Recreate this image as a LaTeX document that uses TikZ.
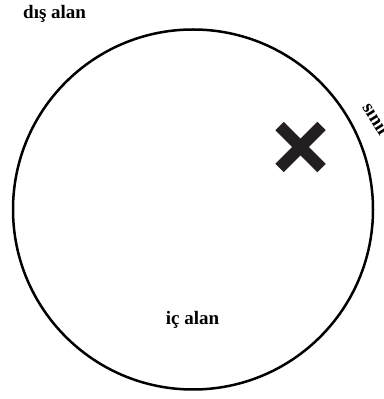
\documentclass[tikz,border=0pt]{standalone}
\usepackage{fontspec}
\setmainfont{Liberation Serif}
\definecolor{markcol}{HTML}{231F20}
\begin{document}
\begin{tikzpicture}[x=1pt,y=1pt,
  lbl/.style={font=\bfseries\fontsize{19}{22}\selectfont, inner sep=0pt},
  xarm/.style={draw=markcol, line width=12pt, line cap=butt}]
\useasboundingbox (0,0) rectangle (383,399);
\node[draw, circle, line width=2.5pt, minimum size=360pt, inner sep=0pt] (c) at (193,189.5) {};
\node[lbl, anchor=base west] (dis) at (23,380) {dış alan};
\node[lbl, anchor=base] (ic) at (192.5,74) {iç alan};
\node[lbl, anchor=base west, rotate=-58] (sinir) at (361.7,291.7) {sınır};
\coordinate (xc) at (300.5,252);
\draw[xarm] ([shift={(-21,-21)}]xc) -- ([shift={(21,21)}]xc);
\draw[xarm] ([shift={(-21,21)}]xc) -- ([shift={(21,-21)}]xc);
\end{tikzpicture}
\end{document}
